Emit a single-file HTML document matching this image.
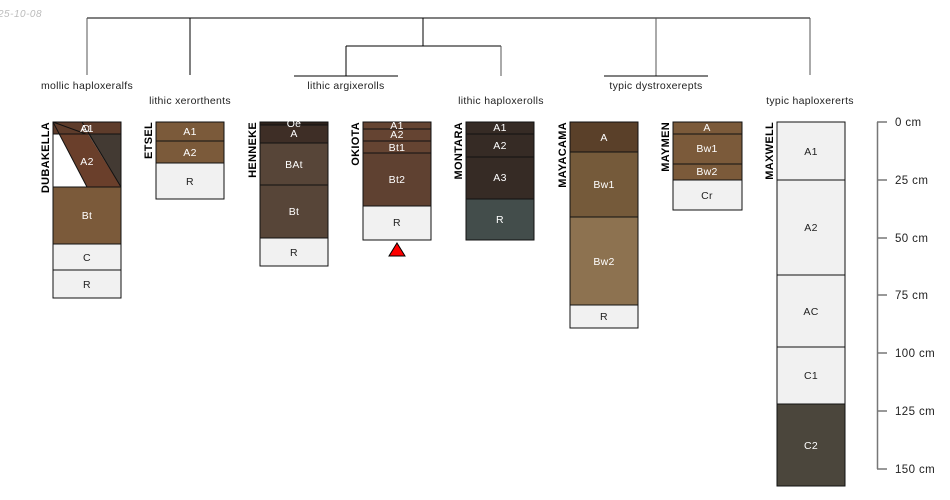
<!DOCTYPE html>
<html><head><meta charset="utf-8"><style>
html,body{margin:0;padding:0;background:#fff;}
svg{display:block;font-family:"Liberation Sans",sans-serif;}
</style></head><body>
<svg width="950" height="500" viewBox="0 0 950 500" xmlns="http://www.w3.org/2000/svg">
<text x="-2" y="17" font-size="10" font-style="italic" fill="#bbb" letter-spacing="0.5">25-10-08</text>
<g stroke="#000" stroke-width="1" fill="none">
<line x1="87" y1="18" x2="810" y2="18"/>
<line x1="87" y1="18" x2="87" y2="75" stroke="#555"/>
<line x1="190" y1="18" x2="190" y2="75"/>
<line x1="423" y1="18" x2="423" y2="46"/>
<line x1="346" y1="46" x2="501" y2="46"/>
<line x1="346" y1="46" x2="346" y2="76"/>
<line x1="501" y1="46" x2="501" y2="76" stroke="#555"/>
<line x1="294" y1="76" x2="398" y2="76"/>
<line x1="656" y1="18" x2="656" y2="76" stroke="#555"/>
<line x1="604" y1="76" x2="708" y2="76"/>
<line x1="810" y1="18" x2="810" y2="75" stroke="#555"/>
</g>
<g font-size="10.5" fill="#222" text-anchor="middle" letter-spacing="0.3">
<text x="87" y="89">mollic haploxeralfs</text>
<text x="190" y="104">lithic xerorthents</text>
<text x="346" y="89">lithic argixerolls</text>
<text x="501" y="104">lithic haploxerolls</text>
<text x="656" y="89">typic dystroxerepts</text>
<text x="810" y="104">typic haploxererts</text>
</g>
<g font-size="11" font-weight="bold" fill="#000" letter-spacing="0.3">
<text transform="translate(49,122) rotate(-90)" text-anchor="end">DUBAKELLA</text>
<text transform="translate(152,122) rotate(-90)" text-anchor="end">ETSEL</text>
<text transform="translate(256,122) rotate(-90)" text-anchor="end">HENNEKE</text>
<text transform="translate(359,122) rotate(-90)" text-anchor="end">OKIOTA</text>
<text transform="translate(462,122) rotate(-90)" text-anchor="end">MONTARA</text>
<text transform="translate(566,122) rotate(-90)" text-anchor="end">MAYACAMA</text>
<text transform="translate(669,122) rotate(-90)" text-anchor="end">MAYMEN</text>
<text transform="translate(773,122) rotate(-90)" text-anchor="end">MAXWELL</text>
</g>
<g stroke="#111" stroke-width="1">
<rect x="53" y="122" width="68" height="12" fill="#5e3c2b"/>
<rect x="53" y="134" width="68" height="53" fill="#ffffff"/>
<polygon points="59,134 88,134 121,187 87,187" fill="#6a3f2b" stroke="none"/>
<polygon points="88,134 121,134 121,187" fill="#433a33" stroke="none"/>
<line x1="53" y1="122" x2="87" y2="187"/>
<line x1="82" y1="122" x2="121" y2="187"/>
<line x1="53" y1="122" x2="86" y2="134"/>
<rect x="53" y="134" width="68" height="53" fill="none"/>
<rect x="53" y="187" width="68" height="57" fill="#7b5a3a"/>
<rect x="53" y="244" width="68" height="26" fill="#f1f1f1"/>
<rect x="53" y="270" width="68" height="28" fill="#f1f1f1"/>
<rect x="156" y="122" width="68" height="19" fill="#7b5a3a"/>
<rect x="156" y="141" width="68" height="22" fill="#7b5a3a"/>
<rect x="156" y="163" width="68" height="36" fill="#f1f1f1"/>
<rect x="260" y="122" width="68" height="3" fill="#2e221c"/>
<rect x="260" y="125" width="68" height="18" fill="#3e2e26"/>
<rect x="260" y="143" width="68" height="42" fill="#574538"/>
<rect x="260" y="185" width="68" height="53" fill="#574538"/>
<rect x="260" y="238" width="68" height="28" fill="#f1f1f1"/>
<rect x="363" y="122" width="68" height="7" fill="#654432"/>
<rect x="363" y="129" width="68" height="12" fill="#654432"/>
<rect x="363" y="141" width="68" height="12" fill="#654432"/>
<rect x="363" y="153" width="68" height="53" fill="#5f4131"/>
<rect x="363" y="206" width="68" height="34" fill="#f1f1f1"/>
<polygon points="397,243 405,256 389,256" fill="#ff0000" stroke="#000"/>
<rect x="466" y="122" width="68" height="12" fill="#362b25"/>
<rect x="466" y="134" width="68" height="23" fill="#362b25"/>
<rect x="466" y="157" width="68" height="42" fill="#362b25"/>
<rect x="466" y="199" width="68" height="41" fill="#434d4b"/>
<rect x="570" y="122" width="68" height="30" fill="#5a4029"/>
<rect x="570" y="152" width="68" height="65" fill="#755a3a"/>
<rect x="570" y="217" width="68" height="88" fill="#8d7250"/>
<rect x="570" y="305" width="68" height="23" fill="#f1f1f1"/>
<rect x="673" y="122" width="69" height="12" fill="#7b5a3a"/>
<rect x="673" y="134" width="69" height="30" fill="#7b5a3a"/>
<rect x="673" y="164" width="69" height="16" fill="#7b5a3a"/>
<rect x="673" y="180" width="69" height="30" fill="#f1f1f1"/>
<rect x="777" y="122" width="68" height="58" fill="#f1f1f1"/>
<rect x="777" y="180" width="68" height="95" fill="#f1f1f1"/>
<rect x="777" y="275" width="68" height="72" fill="#f1f1f1"/>
<rect x="777" y="347" width="68" height="57" fill="#f1f1f1"/>
<rect x="777" y="404" width="68" height="82" fill="#4b463c"/>
</g>
<g font-size="10.5" text-anchor="middle" fill="#fff" letter-spacing="0.3">
<text x="87" y="132">A1</text><text x="86" y="132">O</text>
<text x="87" y="165">A2</text>
<text x="87" y="219">Bt</text>
<text x="87" y="261" fill="#222">C</text>
<text x="87" y="288" fill="#222">R</text>
<text x="190" y="135">A1</text>
<text x="190" y="156">A2</text>
<text x="190" y="185" fill="#222">R</text>
<text x="294" y="127">Oe</text>
<text x="294" y="137">A</text>
<text x="294" y="168">BAt</text>
<text x="294" y="215">Bt</text>
<text x="294" y="256" fill="#222">R</text>
<text x="397" y="129">A1</text>
<text x="397" y="138">A2</text>
<text x="397" y="151">Bt1</text>
<text x="397" y="183">Bt2</text>
<text x="397" y="226" fill="#222">R</text>
<text x="500" y="131">A1</text>
<text x="500" y="149">A2</text>
<text x="500" y="181">A3</text>
<text x="500" y="223">R</text>
<text x="604" y="141">A</text>
<text x="604" y="188">Bw1</text>
<text x="604" y="265">Bw2</text>
<text x="604" y="320" fill="#222">R</text>
<text x="707" y="131">A</text>
<text x="707" y="152">Bw1</text>
<text x="707" y="175">Bw2</text>
<text x="707" y="199" fill="#222">Cr</text>
<text x="811" y="155" fill="#222">A1</text>
<text x="811" y="231" fill="#222">A2</text>
<text x="811" y="315" fill="#222">AC</text>
<text x="811" y="379" fill="#222">C1</text>
<text x="811" y="449">C2</text>
</g>
<g stroke="#777" stroke-width="1.5">
<line x1="877.5" y1="122" x2="877.5" y2="469"/>
<line x1="877" y1="122" x2="887" y2="122"/>
<line x1="877" y1="180" x2="887" y2="180"/>
<line x1="877" y1="238" x2="887" y2="238"/>
<line x1="877" y1="295" x2="887" y2="295"/>
<line x1="877" y1="353" x2="887" y2="353"/>
<line x1="877" y1="411" x2="887" y2="411"/>
<line x1="877" y1="469" x2="887" y2="469"/>
</g>
<g font-size="11.5" fill="#222" letter-spacing="0.4">
<text x="895" y="126">0 cm</text>
<text x="895" y="184">25 cm</text>
<text x="895" y="242">50 cm</text>
<text x="895" y="299">75 cm</text>
<text x="895" y="357">100 cm</text>
<text x="895" y="415">125 cm</text>
<text x="895" y="473">150 cm</text>
</g>
</svg>
</body></html>
